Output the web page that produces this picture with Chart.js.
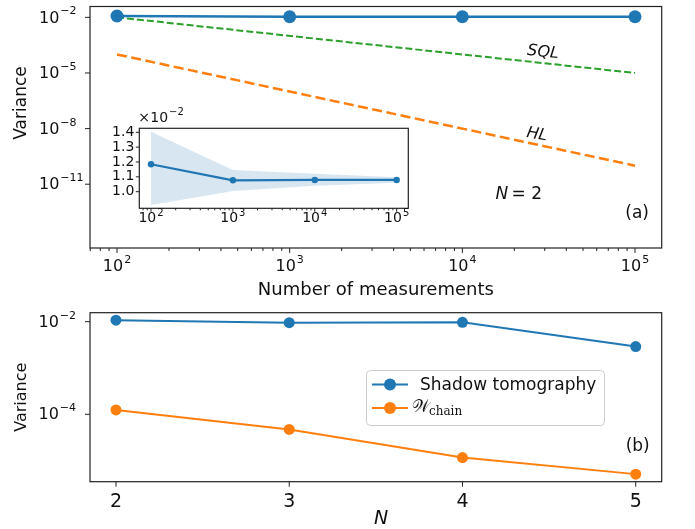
<!DOCTYPE html>
<html>
<head>
<meta charset="utf-8">
<script src="https://cdn.jsdelivr.net/npm/chart.js@4/dist/chart.umd.min.js"></script>
<style>
  body { margin: 0; background: #fff; }
  #wrap { position: relative; width: 695px; height: 529px; overflow: hidden; }
  canvas { position: absolute; }
</style>
</head>
<body>
<div id="wrap">
  <canvas id="chartA" width="695" height="300" style="left:0;top:0;width:695px;height:300px"></canvas>
  <canvas id="chartInset" width="320" height="130" style="left:100px;top:105px;width:320px;height:130px"></canvas>
  <canvas id="chartB" width="695" height="229" style="left:0;top:300px;width:695px;height:229px"></canvas>
</div>
<script>
// panel (a): variance vs number of measurements, N = 2
const measurements = [100, 1000, 10000, 100000];
const shadowVarA = [0.0118, 0.01077, 0.01079, 0.01079];
const limitX = [100, 100000];
const sqlY = [1e-2, 1e-5];
const hlY = [1e-4, 1e-10];
const xTicksA = [1e2, 1e3, 1e4, 1e5];
const yTicksA = [1e-2, 1e-5, 1e-8, 1e-11];

// inset of (a): same series on a linear scale with spread band
const insetMean = [0.01185, 0.010768, 0.01079, 0.01079];
const insetUpper = [0.01404, 0.01146, 0.0112, 0.01097];
const insetLower = [0.0091, 0.01005, 0.0104, 0.0106];
const yTicksInset = [0.010, 0.011, 0.012, 0.013, 0.014];

// panel (b): variance vs N
const qubits = [2, 3, 4, 5];
const shadowVarB = [0.0108, 0.0095, 0.0097, 0.0029];
const chainVarB = [1.24e-4, 4.7e-5, 1.16e-5, 5.1e-6];
const yTicksB = [1e-2, 1e-4];

const blue = '#1f77b4', orange = '#ff7f0e', green = '#2ca02c';
const INK = '#111';
const FONT = "'DejaVu Sans', sans-serif";

function pts(xs, ys) { return xs.map((x, i) => ({ x: x, y: ys[i] })); }

function frame(ctx, a) {
  ctx.strokeStyle = '#222';
  ctx.lineWidth = 1.2;
  ctx.strokeRect(a.left, a.top, a.right - a.left, a.bottom - a.top);
}

function tick(ctx, x, y, dx, dy) {
  ctx.beginPath();
  ctx.moveTo(x, y);
  ctx.lineTo(x + dx, y + dy);
  ctx.stroke();
}

function minorLog(scale) {
  const out = [];
  for (let d = Math.floor(Math.log10(scale.min)); d <= Math.ceil(Math.log10(scale.max)); d++) {
    for (let k = 2; k <= 9; k++) {
      const v = k * Math.pow(10, d);
      if (v > scale.min && v < scale.max) out.push(v);
    }
  }
  return out;
}

// "10" with a raised exponent, like matplotlib mathtext
function drawPow(ctx, v, x, y, size, align) {
  const exp = Math.round(Math.log10(v));
  const sup = (exp < 0 ? '\u2212' : '') + Math.abs(exp);
  const small = Math.round(size * 0.7);
  ctx.font = size + 'px ' + FONT;
  const wb = ctx.measureText('10').width;
  ctx.font = small + 'px ' + FONT;
  const ws = ctx.measureText(sup).width + 1;
  let left = x;
  if (align === 'center') left = x - (wb + ws) / 2;
  if (align === 'right') left = x - wb - ws;
  ctx.textAlign = 'left';
  ctx.textBaseline = 'middle';
  ctx.font = size + 'px ' + FONT;
  ctx.fillText('10', left, y);
  ctx.font = small + 'px ' + FONT;
  ctx.fillText(sup, left + wb + 1, y - size * 0.42);
}

function text(ctx, s, x, y, size, opts) {
  opts = opts || {};
  ctx.save();
  ctx.translate(x, y);
  if (opts.rot) ctx.rotate(opts.rot);
  ctx.font = (opts.italic ? 'italic ' : '') + size + 'px ' + (opts.family || FONT);
  ctx.textAlign = opts.align || 'center';
  ctx.textBaseline = opts.baseline || 'middle';
  ctx.fillStyle = INK;
  ctx.fillText(s, 0, 0);
  ctx.restore();
}

function hiddenScale(type, min, max, fit) {
  return {
    type: type, min: min, max: max, bounds: 'data',
    ticks: { display: false }, grid: { display: false }, border: { display: false },
    afterFit: fit
  };
}

const baseOptions = {
  responsive: false, animation: false, events: [],
  plugins: { legend: { display: false }, tooltip: { enabled: false } }
};

// ---------- panel (a) ----------
const axesA = {
  id: 'axesA',
  afterDraw(chart) {
    const { ctx, chartArea: a, scales: { x, y } } = chart;
    ctx.save();
    frame(ctx, a);
    ctx.lineWidth = 1;
    xTicksA.forEach(v => tick(ctx, x.getPixelForValue(v), a.bottom, 0, 5));
    minorLog(x).forEach(v => tick(ctx, x.getPixelForValue(v), a.bottom, 0, 3));
    yTicksA.forEach(v => tick(ctx, a.left, y.getPixelForValue(v), -5, 0));
    ctx.fillStyle = INK;
    xTicksA.forEach(v => drawPow(ctx, v, x.getPixelForValue(v), a.bottom + 19, 16, 'center'));
    yTicksA.forEach(v => drawPow(ctx, v, 39, y.getPixelForValue(v) + 1, 16, 'left'));

    text(ctx, 'Number of measurements', (a.left + a.right) / 2, 295, 18, { baseline: 'alphabetic' });
    text(ctx, 'Variance', 22, 103, 17, { rot: -Math.PI / 2 });

    // line labels, rotated along the lines
    const sqlAng = Math.atan2(y.getPixelForValue(sqlY[1]) - y.getPixelForValue(sqlY[0]),
      x.getPixelForValue(limitX[1]) - x.getPixelForValue(limitX[0]));
    const hlAng = Math.atan2(y.getPixelForValue(hlY[1]) - y.getPixelForValue(hlY[0]),
      x.getPixelForValue(limitX[1]) - x.getPixelForValue(limitX[0]));
    text(ctx, 'SQL', x.getPixelForValue(Math.pow(10, 4.467)), y.getPixelForValue(Math.pow(10, -3.89)), 16, { italic: true, rot: sqlAng });
    text(ctx, 'HL', x.getPixelForValue(Math.pow(10, 4.432)), y.getPixelForValue(Math.pow(10, -8.33)), 16, { italic: true, rot: hlAng * 0.85 });

    const w = a.right - a.left, h = a.bottom - a.top;
    const nx = a.left + 0.75 * w, ny = a.top + 0.78 * h;
    ctx.font = 'italic 17px ' + FONT;
    const wn = ctx.measureText('N').width;
    ctx.font = '17px ' + FONT;
    const wr = ctx.measureText('\u2009= 2').width;
    text(ctx, 'N', nx - (wn + wr) / 2, ny, 17, { italic: true, align: 'left' });
    text(ctx, '\u2009= 2', nx - (wn + wr) / 2 + wn, ny, 17, { align: 'left' });
    text(ctx, '(a)', a.left + 0.957 * w, a.top + 0.857 * h, 17);
    ctx.restore();
  }
};

new Chart(document.getElementById('chartA'), {
  type: 'line',
  data: {
    datasets: [
      { data: pts(measurements, shadowVarA), borderColor: blue, backgroundColor: blue,
        borderWidth: 2.5, pointRadius: 6.5, pointBorderWidth: 0 },
      { data: pts(limitX, sqlY), borderColor: green, borderWidth: 2, borderDash: [7, 3], pointRadius: 0 },
      { data: pts(limitX, hlY), borderColor: orange, borderWidth: 2.5, borderDash: [10, 4.5], pointRadius: 0 }
    ]
  },
  options: Object.assign({}, baseOptions, {
    layout: { padding: { left: 0, right: 33.3, top: 3, bottom: 0 } },
    scales: {
      x: hiddenScale('logarithmic', Math.pow(10, 1.8436), Math.pow(10, 5.1546), s => { s.height = 52; }),
      y: hiddenScale('logarithmic', Math.pow(10, -14.44), Math.pow(10, -1.415), s => { s.width = 90; })
    }
  }),
  plugins: [axesA]
});

// ---------- inset ----------
const axesInset = {
  id: 'axesInset',
  beforeDraw(chart) {
    const { ctx, chartArea: a } = chart;
    ctx.save();
    ctx.fillStyle = '#fff';
    ctx.fillRect(a.left, a.top, a.right - a.left, a.bottom - a.top);
    ctx.restore();
  },
  afterDraw(chart) {
    const { ctx, chartArea: a, scales: { x, y } } = chart;
    ctx.save();
    frame(ctx, a);
    ctx.lineWidth = 1;
    measurements.forEach(v => tick(ctx, x.getPixelForValue(v), a.bottom, 0, 3.5));
    minorLog(x).forEach(v => tick(ctx, x.getPixelForValue(v), a.bottom, 0, 2));
    yTicksInset.forEach(v => tick(ctx, a.left, y.getPixelForValue(v), -3.5, 0));
    ctx.fillStyle = INK;
    measurements.forEach(v => drawPow(ctx, v, x.getPixelForValue(v), a.bottom + 10.5, 14, 'center'));
    yTicksInset.forEach(v => text(ctx, (v * 100).toFixed(1), a.left - 5, y.getPixelForValue(v), 14, { align: 'right' }));
    text(ctx, '\u00d7', a.left - 1, 13, 14, { align: 'left' });
    drawPow(ctx, 0.01, a.left + 11, 13, 14, 'left');
    ctx.restore();
  }
};

new Chart(document.getElementById('chartInset'), {
  type: 'line',
  data: {
    datasets: [
      { data: pts(measurements, insetUpper), borderWidth: 0, pointRadius: 0,
        fill: '+1', backgroundColor: 'rgba(31,119,180,0.18)' },
      { data: pts(measurements, insetLower), borderWidth: 0, pointRadius: 0, fill: false },
      { data: pts(measurements, insetMean), borderColor: blue, backgroundColor: blue,
        borderWidth: 2.2, pointRadius: 3.2, pointBorderWidth: 0 }
    ]
  },
  options: Object.assign({}, baseOptions, {
    layout: { padding: { left: 0, right: 11.7, top: 23.3, bottom: 0 } },
    scales: {
      x: hiddenScale('logarithmic', Math.pow(10, 1.857), Math.pow(10, 5.142), s => { s.height = 26.7; }),
      y: hiddenScale('linear', 0.00888, 0.01427, s => { s.width = 39.3; })
    }
  }),
  plugins: [axesInset]
});

// ---------- panel (b) ----------
const axesB = {
  id: 'axesB',
  afterDraw(chart) {
    const { ctx, chartArea: a, scales: { x, y } } = chart;
    ctx.save();
    frame(ctx, a);
    ctx.lineWidth = 1;
    qubits.forEach(v => tick(ctx, x.getPixelForValue(v), a.bottom, 0, 5));
    yTicksB.forEach(v => tick(ctx, a.left, y.getPixelForValue(v), -5, 0));
    ctx.fillStyle = INK;
    qubits.forEach(v => text(ctx, String(v), x.getPixelForValue(v), a.bottom + 20.5, 19));
    yTicksB.forEach(v => drawPow(ctx, v, 38.5, y.getPixelForValue(v) + 1, 16, 'left'));
    text(ctx, 'Variance', 22, (a.top + a.bottom) / 2, 16, { rot: -Math.PI / 2 });
    text(ctx, 'N', 381, 224, 19, { italic: true, baseline: 'alphabetic' });
    const w = a.right - a.left, h = a.bottom - a.top;
    text(ctx, '(b)', a.left + 0.958 * w, a.top + 0.795 * h, 17);

    // legend box
    ctx.beginPath();
    ctx.roundRect(366.5, 70.5, 238, 55, 4);
    ctx.fillStyle = 'rgba(255,255,255,0.8)';
    ctx.fill();
    ctx.strokeStyle = '#cccccc';
    ctx.lineWidth = 1;
    ctx.stroke();
    [[blue, 84.5], [orange, 108]].forEach(([c, ly]) => {
      ctx.strokeStyle = c;
      ctx.lineWidth = 2;
      tick(ctx, 372, ly, 36, 0);
      ctx.fillStyle = c;
      ctx.beginPath();
      ctx.arc(390, ly, 6, 0, Math.PI * 2);
      ctx.fill();
    });
    text(ctx, 'Shadow tomography', 420, 90, 17, { align: 'left', baseline: 'alphabetic' });
    text(ctx, '\ud835\udcb2', 412, 112, 17, { align: 'left', baseline: 'alphabetic', family: "'DejaVu Serif', serif" });
    text(ctx, 'chain', 429, 115, 12, { align: 'left', baseline: 'alphabetic', family: "'DejaVu Serif', serif" });
    ctx.restore();
  }
};

new Chart(document.getElementById('chartB'), {
  type: 'line',
  data: {
    datasets: [
      { data: pts(qubits, shadowVarB), borderColor: blue, backgroundColor: blue,
        borderWidth: 2, pointRadius: 5.5, pointBorderWidth: 0 },
      { data: pts(qubits, chainVarB), borderColor: orange, backgroundColor: orange,
        borderWidth: 2, pointRadius: 5.5, pointBorderWidth: 0 }
    ]
  },
  options: Object.assign({}, baseOptions, {
    layout: { padding: { left: 0, right: 33.3, top: 12.7, bottom: 0 } },
    scales: {
      x: hiddenScale('linear', 1.85, 5.15, s => { s.height = 47.3; }),
      y: hiddenScale('logarithmic', Math.pow(10, -5.456), Math.pow(10, -1.806), s => { s.width = 90; })
    }
  }),
  plugins: [axesB]
});
</script>
</body>
</html>
